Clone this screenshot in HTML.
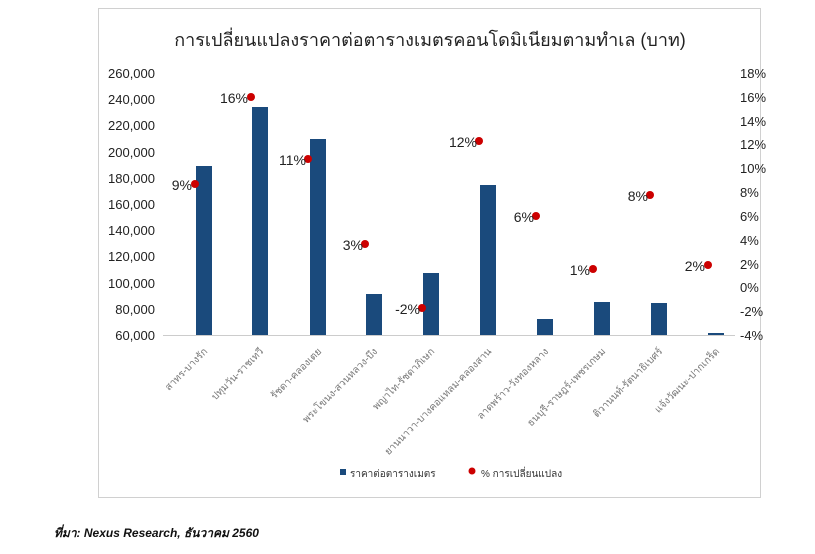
<!DOCTYPE html><html><head><meta charset="utf-8"><style>body{margin:0;background:#fff}svg{display:block}</style></head><body>
<svg width="815" height="554" xmlns="http://www.w3.org/2000/svg" font-family="Liberation Sans, Noto Sans CJK SC, sans-serif">
<rect x="98.5" y="8.5" width="662" height="489" fill="#fff" stroke="#d0d0d0"/>
<text x="430" y="46" text-anchor="middle" font-size="18" fill="#222">การเปลี่ยนแปลงราคาต่อตารางเมตรคอนโดมิเนียมตามทำเล  (บาท)</text>
<g font-size="13" fill="#222" text-anchor="end">
<text x="155" y="78">260,000</text><text x="155" y="104">240,000</text><text x="155" y="130">220,000</text><text x="155" y="157">200,000</text><text x="155" y="183">180,000</text><text x="155" y="209">160,000</text><text x="155" y="235">140,000</text><text x="155" y="261">120,000</text><text x="155" y="288">100,000</text><text x="155" y="314">80,000</text><text x="155" y="340">60,000</text>
</g>
<g font-size="13" fill="#222" text-anchor="start">
<text x="740" y="78">18%</text><text x="740" y="102">16%</text><text x="740" y="126">14%</text><text x="740" y="149">12%</text><text x="740" y="173">10%</text><text x="740" y="197">8%</text><text x="740" y="221">6%</text><text x="740" y="245">4%</text><text x="740" y="269">2%</text><text x="740" y="292">0%</text><text x="740" y="316">-2%</text><text x="740" y="340">-4%</text>
</g>
<line x1="163" y1="335.5" x2="735" y2="335.5" stroke="#ccc"/>
<g fill="#1a4a7c">
<rect x="196" y="166" width="16" height="169"/><rect x="252" y="107" width="16" height="228"/><rect x="310" y="139" width="16" height="196"/><rect x="366" y="294" width="16" height="41"/><rect x="423" y="273" width="16" height="62"/><rect x="480" y="185" width="16" height="150"/><rect x="537" y="319" width="16" height="16"/><rect x="594" y="302" width="16" height="33"/><rect x="651" y="303" width="16" height="32"/><rect x="708" y="333" width="16" height="2"/>
</g>
<g fill="#c00">
<circle cx="195" cy="184" r="4"/><circle cx="251" cy="97" r="4"/><circle cx="308" cy="159" r="4"/><circle cx="365" cy="244" r="4"/><circle cx="422" cy="308" r="4"/><circle cx="479" cy="141" r="4"/><circle cx="536" cy="216" r="4"/><circle cx="593" cy="269" r="4"/><circle cx="650" cy="195" r="4"/><circle cx="708" cy="265" r="4"/>
</g>
<g font-size="14" fill="#222" text-anchor="end">
<text x="192" y="190">9%</text><text x="248" y="103">16%</text><text x="306" y="165">11%</text><text x="363" y="250">3%</text><text x="420" y="314">-2%</text><text x="477" y="147">12%</text><text x="534" y="222">6%</text><text x="590" y="275">1%</text><text x="648" y="201">8%</text><text x="705" y="271">2%</text>
</g>
<g font-size="10" fill="#777" text-anchor="end">
<text transform="translate(208,352) rotate(-45)">สาทร-บางรัก</text>
<text transform="translate(264,352) rotate(-45)">ปทุมวัน-ราชเทวี</text>
<text transform="translate(322,352) rotate(-45)">รัชดา-คลองเตย</text>
<text transform="translate(378,352) rotate(-45)">พระโขนง-สวนหลวง-บึง</text>
<text transform="translate(435,352) rotate(-45)">พญาไท-รัชดาภิเษก</text>
<text transform="translate(492,352) rotate(-45)">ยานนาวา-บางคอแหลม-คลองสาน</text>
<text transform="translate(549,352) rotate(-45)">ลาดพร้าว-วังทองหลาง</text>
<text transform="translate(606,352) rotate(-45)">ธนบุรี-ราษฎร์-เพชรเกษม</text>
<text transform="translate(663,352) rotate(-45)">ติวานนท์-รัตนาธิเบศร์</text>
<text transform="translate(720,352) rotate(-45)">แจ้งวัฒนะ-ปากเกร็ด</text>
</g>
<rect x="340" y="469" width="6" height="6" fill="#1a4a7c"/>
<text x="350" y="477" font-size="10" fill="#333">ราคาต่อตารางเมตร</text>
<circle cx="472" cy="471" r="3.5" fill="#c00"/>
<text x="481" y="477" font-size="10" fill="#333">% การเปลี่ยนแปลง</text>
<text x="54" y="537" font-size="12" font-weight="bold" font-style="italic" fill="#111">ที่มา: Nexus Research, ธันวาคม 2560</text>
</svg>
</body></html>
